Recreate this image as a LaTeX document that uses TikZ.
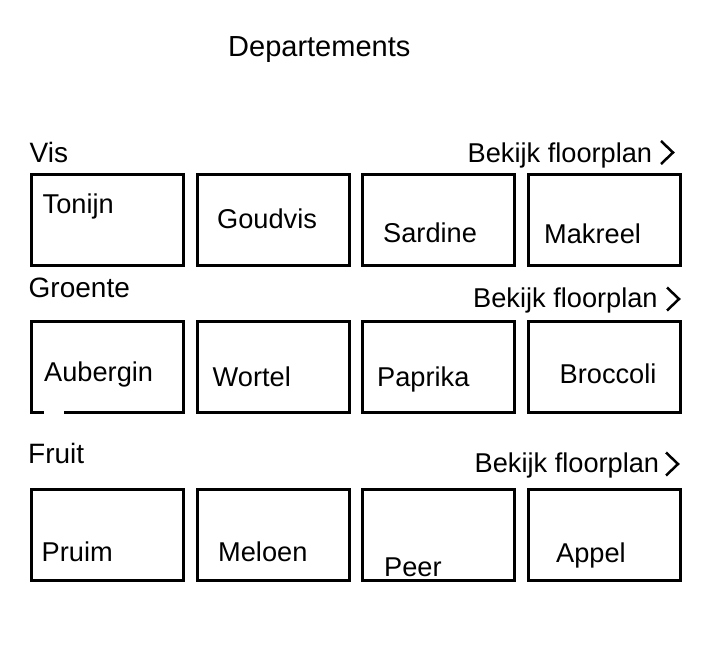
\documentclass[tikz,border=0pt]{standalone}
\usepackage{fontspec}
\setmainfont{Liberation Sans}
\begin{document}
\begin{tikzpicture}[x=1pt,y=-1pt,
  cell/.style={draw=black,line width=3pt,minimum width=152pt,minimum height=91pt,inner sep=0pt,rectangle},
  itemtxt/.style={anchor=base west,inner sep=0pt,font=\fontsize{27.2}{32}\selectfont},
  cattxt/.style={anchor=base west,inner sep=0pt,font=\fontsize{28}{33}\selectfont},
  linktxt/.style={anchor=base west,inner sep=0pt,font=\fontsize{27.2}{32}\selectfont},
  chev/.style={line width=2.5pt,line cap=butt,line join=miter}]
\useasboundingbox (0,0) rectangle (723,664);
\fill[white] (0,0) rectangle (723,664);

\node[anchor=base west,inner sep=0pt,font=\fontsize{29}{34}\selectfont] (title) at (228,56.5) {Departements};

% categories
\node[cattxt] (vis) at (29.5,162) {Vis};
\node[cattxt] (groente) at (28.5,297) {Groente};
\node[cattxt] (fruit) at (28,463) {Fruit};

% links
\node[linktxt] (link1) at (467.5,162) {Bekijk floorplan};
\node[linktxt] (link2) at (473,307.5) {Bekijk floorplan};
\node[linktxt] (link3) at (474.5,472.5) {Bekijk floorplan};
\coordinate (c1) at (661,141);
\draw[chev] (c1) -- ++(12,11.5) -- ++(-12,11.5);
\coordinate (c2) at (667,287.5);
\draw[chev] (c2) -- ++(12,11.5) -- ++(-12,11.5);
\coordinate (c3) at (666,452.5);
\draw[chev] (c3) -- ++(12,11.5) -- ++(-12,11.5);

% boxes row 1
\node[cell] (b11) at (107,220) {};
\node[cell] (b12) at (273.5,220) {};
\node[cell] (b13) at (438,220) {};
\node[cell] (b14) at (604.5,220) {};
% row 2
\node[cell] (b21) at (107,366.5) {};
\node[cell] (b22) at (273.5,366.5) {};
\node[cell] (b23) at (438,366.5) {};
\node[cell] (b24) at (604.5,366.5) {};
% row 3
\node[cell] (b31) at (107,534.5) {};
\node[cell] (b32) at (273.5,534.5) {};
\node[cell] (b33) at (438,534.5) {};
\node[cell] (b34) at (604.5,534.5) {};

% white gap on Aubergin box
\fill[white] (44,409.5) rectangle (64,414);

% labels
\node[itemtxt] (t11) at (42.5,213.3) {Tonijn};
\node[itemtxt] (t12) at (217,228.5) {Goudvis};
\node[itemtxt] (t13) at (383,242.5) {Sardine};
\node[itemtxt] (t14) at (544,243.3) {Makreel};
\node[itemtxt] (t21) at (44,381.7) {Aubergin};
\node[itemtxt] (t22) at (212.5,386) {Wortel};
\node[itemtxt] (t23) at (377,386) {Paprika};
\node[itemtxt] (t24) at (559.5,383.3) {Broccoli};
\node[itemtxt] (t31) at (41.5,561.7) {Pruim};
\node[itemtxt] (t32) at (218,561.7) {Meloen};
\node[itemtxt] (t33) at (384,576.7) {Peer};
\node[itemtxt] (t34) at (556,562.7) {Appel};
\end{tikzpicture}
\end{document}
